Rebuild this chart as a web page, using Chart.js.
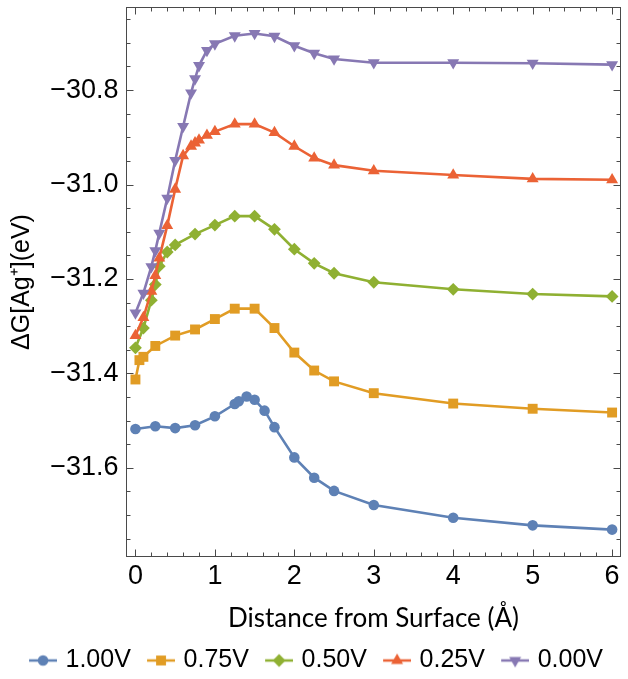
<!DOCTYPE html>
<html>
<head>
<meta charset="utf-8">
<script src="https://cdn.jsdelivr.net/npm/chart.js@4.4.1/dist/chart.umd.min.js"></script>
<style>
html,body{margin:0;padding:0;background:#fff;overflow:hidden;}
#wrap{position:relative;width:628px;height:679px;}
</style>
</head>
<body>
<div id="wrap"><canvas id="c"></canvas></div>
<script>
// ---- data ----
const seriesNames = ['1.00V', '0.75V', '0.50V', '0.25V', '0.00V'];
const xTickValues = [0, 1, 2, 3, 4, 5, 6];
const yTickValues = [-31.6, -31.4, -31.2, -31.0, -30.8];

const blueX = [0, 0.25, 0.5, 0.75, 1.0, 1.25, 1.3, 1.4, 1.5, 1.625, 1.75, 2.0, 2.25, 2.5, 3, 4, 5, 6];
const blueY = [-31.518, -31.512, -31.516, -31.510, -31.491, -31.465, -31.459, -31.449, -31.456, -31.479, -31.514, -31.578, -31.621, -31.649, -31.679, -31.706, -31.722, -31.731];

const orangeX = [0, 0.05, 0.1, 0.25, 0.5, 0.75, 1.0, 1.25, 1.5, 1.75, 2.0, 2.25, 2.5, 3, 4, 5, 6];
const orangeY = [-31.413, -31.372, -31.365, -31.342, -31.320, -31.307, -31.285, -31.263, -31.263, -31.304, -31.356, -31.394, -31.417, -31.442, -31.464, -31.475, -31.483];

const greenX = [0, 0.1, 0.2, 0.25, 0.3, 0.4, 0.5, 0.75, 1.0, 1.25, 1.5, 1.75, 2.0, 2.25, 2.5, 3, 4, 5, 6];
const greenY = [-31.346, -31.304, -31.245, -31.212, -31.173, -31.143, -31.128, -31.105, -31.086, -31.067, -31.067, -31.095, -31.137, -31.167, -31.188, -31.207, -31.222, -31.232, -31.237];

const redX = [0, 0.1, 0.2, 0.25, 0.3, 0.4, 0.5, 0.6, 0.7, 0.75, 0.8, 0.9, 1.0, 1.25, 1.5, 1.75, 2.0, 2.25, 2.5, 3, 4, 5, 6];
const redY = [-31.320, -31.282, -31.226, -31.193, -31.156, -31.087, -31.010, -30.939, -30.919, -30.912, -30.906, -30.896, -30.888, -30.872, -30.872, -30.890, -30.919, -30.944, -30.959, -30.971, -30.980, -30.988, -30.990];

const purpleX = [0, 0.1, 0.2, 0.25, 0.3, 0.4, 0.5, 0.6, 0.7, 0.75, 0.8, 0.9, 1.0, 1.25, 1.5, 1.75, 2.0, 2.25, 2.5, 3, 4, 5, 6];
const purpleY = [-31.272, -31.230, -31.174, -31.140, -31.103, -31.029, -30.949, -30.877, -30.806, -30.776, -30.748, -30.716, -30.702, -30.685, -30.680, -30.686, -30.706, -30.722, -30.734, -30.742, -30.742, -30.743, -30.746];

// ---- styles ----
const colors = ['#5E81B5', '#E19C24', '#8FB032', '#EB6235', '#8778B3'];
const markers = [
  {pointStyle: 'circle', radius: 5.3, rotation: 0},
  {pointStyle: 'rect', radius: 7, rotation: 0},
  {pointStyle: 'rectRot', radius: 6.4, rotation: 0},
  {pointStyle: 'triangle', radius: 6.9, rotation: 0},
  {pointStyle: 'triangle', radius: 6.9, rotation: 180}
];
const xs = [blueX, orangeX, greenX, redX, purpleX];
const ys = [blueY, orangeY, greenY, redY, purpleY];

const SANS = "'Liberation Sans', Arial, sans-serif";
const TICK_FONT = {family: SANS, size: 27};
const LEGEND_FONT = {family: SANS, size: 25};
const TITLE_FONT = {family: "Lato, 'Open Sans', sans-serif", size: 26};

// legend icons: line segment with marker (drawn in right 28px of a 36px canvas)
function makeIcon(i) {
  const cv = document.createElement('canvas');
  cv.width = 36; cv.height = 16;
  const g = cv.getContext('2d');
  g.strokeStyle = colors[i];
  g.lineWidth = 2.5;
  g.beginPath(); g.moveTo(8, 8); g.lineTo(36, 8); g.stroke();
  g.fillStyle = colors[i];
  Chart.helpers.drawPoint(g, {pointStyle: markers[i].pointStyle, radius: markers[i].radius, rotation: markers[i].rotation, borderWidth: 0}, 22, 8);
  return cv;
}
const icons = colors.map((c, i) => makeIcon(i));

const datasets = seriesNames.map((name, i) => ({
  label: name,
  data: xs[i].map((x, k) => ({x: x, y: ys[i][k]})),
  showLine: true,
  borderColor: colors[i],
  backgroundColor: colors[i],
  borderWidth: 2.6,
  tension: 0,
  pointStyle: markers[i].pointStyle,
  pointRadius: markers[i].radius,
  pointRotation: markers[i].rotation,
  pointBackgroundColor: colors[i],
  pointBorderWidth: 0,
  pointHoverRadius: markers[i].radius,
  order: seriesNames.length - i
}));

// Frame with inward ticks on all four sides
const frameTicks = {
  id: 'frameTicks',
  beforeDatasetsDraw(chart) {
    const {ctx, chartArea: a, scales: {x, y}} = chart;
    ctx.save();
    ctx.strokeStyle = '#4a4a4a';
    ctx.lineWidth = 1;
    ctx.strokeRect(a.left + 0.5, a.top + 0.5, a.right - a.left - 1, a.bottom - a.top - 1);
    ctx.beginPath();
    for (let k = 0; k <= 30; k++) {
      const v = k * 0.2;
      const px = Math.round(x.getPixelForValue(v)) + 0.5;
      const L = (k % 5 === 0) ? 7.5 : 4.5;
      ctx.moveTo(px, a.bottom); ctx.lineTo(px, a.bottom - L);
      ctx.moveTo(px, a.top); ctx.lineTo(px, a.top + L);
    }
    for (let k = 0; k <= 22; k++) {
      const v = -31.75 + k * 0.05;
      const py = Math.round(y.getPixelForValue(v)) + 0.5;
      const L = ((k + 1) % 4 === 0) ? 7.5 : 4.5;
      ctx.moveTo(a.left, py); ctx.lineTo(a.left + L, py);
      ctx.moveTo(a.right, py); ctx.lineTo(a.right - L, py);
    }
    ctx.stroke();
    ctx.restore();
  }
};

const fmt = v => (v < 0 ? '\u2212' : '') + Math.abs(v).toFixed(1);

new Chart(document.getElementById('c'), {
  type: 'scatter',
  data: {datasets},
  plugins: [frameTicks],
  options: {
    animation: false,
    responsive: true,
    maintainAspectRatio: false,
    layout: {padding: {left: 0, right: 0, top: 3, bottom: -4}},
    plugins: {
      tooltip: {enabled: false},
      legend: {
        position: 'bottom',
        labels: {
          font: LEGEND_FONT,
          color: '#000',
          usePointStyle: true,
          pointStyleWidth: 28,
          padding: 12.2,
          generateLabels(chart) {
            const items = Chart.defaults.plugins.legend.labels.generateLabels(chart);
            items.sort((a, b) => a.datasetIndex - b.datasetIndex);
            items.forEach(it => { it.pointStyle = icons[it.datasetIndex]; it.rotation = 0; it.fontColor = '#000'; });
            return items;
          }
        }
      }
    },
    scales: {
      x: {
        type: 'linear',
        min: -0.119,
        max: 6.112,
        grid: {display: false, drawTicks: false, tickLength: 0},
        border: {display: false},
        afterBuildTicks: s => { s.ticks = xTickValues.map(v => ({value: v})); },
        ticks: {font: TICK_FONT, color: '#000', padding: 3.8, autoSkip: false, maxRotation: 0, callback: v => String(v)},
        title: {display: true, text: 'Distance from Surface (\u00C5)', font: TITLE_FONT, color: '#000', padding: {top: 0, bottom: 1.2}},
        afterFit: s => { s.height = 78.8; s.paddingLeft = 0; s.paddingRight = 0; }
      },
      y: {
        type: 'linear',
        min: -31.789,
        max: -30.624,
        grid: {display: false, drawTicks: false, tickLength: 0},
        border: {display: false},
        afterBuildTicks: s => { s.ticks = yTickValues.map(v => ({value: v})); },
        ticks: {font: TICK_FONT, color: '#000', padding: 7.5, autoSkip: false, callback: v => fmt(v)},
        title: {display: true, text: '\u0394G[Ag\u207A](eV)', font: {family: SANS, size: 25}, color: '#000', padding: {top: 7, bottom: 0}},
        afterFit: s => { s.width = 126; s.paddingTop = 0; s.paddingBottom = 0; }
      }
    }
  }
});
</script>
</body>
</html>
